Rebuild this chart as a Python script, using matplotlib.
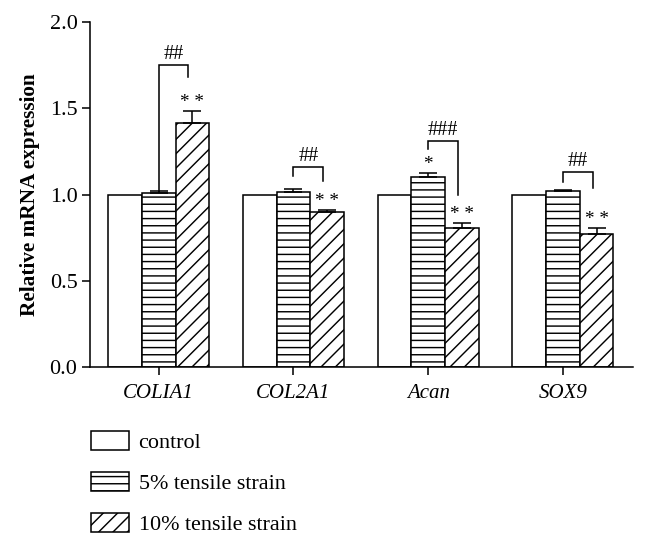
import matplotlib
matplotlib.use("Agg")
import matplotlib.pyplot as plt
import numpy as np
from matplotlib.patches import Patch

# ── Data ──────────────────────────────────────────────────────────────────────
genes = ["COLIA1", "COL2A1", "Acan", "SOX9"]
groups = ["control", "5% tensile strain", "10% tensile strain"]

control = [1.0, 1.0, 1.0, 1.0]
strain5 = [1.007, 1.016, 1.10, 1.022]
strain10 = [1.416, 0.897, 0.804, 0.771]

err_control = [0.0, 0.0, 0.0, 0.0]
err5 = [0.013, 0.014, 0.026, 0.006]
err10 = [0.07, 0.011, 0.033, 0.033]

# significance vs control (above bars) and 5% vs 10% brackets
stars5 = ["", "", "*", ""]
stars10 = ["* *", "* *", "* *", "* *"]
hashes = ["##", "##", "###", "##"]
bracket_top = [1.75, 1.16, 1.31, 1.13]
bracket_left_end = [1.02, 1.11, 1.262, 1.075]
bracket_right_end = [1.68, 1.08, 0.998, 1.04]

# ── Figure ────────────────────────────────────────────────────────────────────
DPI = 86
plt.rcParams["font.family"] = ["Liberation Serif", "DejaVu Serif"]
plt.rcParams["hatch.linewidth"] = 1.2
plt.rcParams["hatch.color"] = "black"

fig = plt.figure(figsize=(647 / DPI, 546 / DPI), dpi=DPI)
ax = fig.add_axes([90 / 647, 1 - 367 / 546, (633 - 90) / 647, (367 - 22) / 546])

x = np.arange(len(genes))
w = 0.25
series = [control, strain5, strain10]
errs = [err_control, err5, err10]
hatch_list = ["", "--", "//"]
lw = 1.3

for i, (vals, e, h) in enumerate(zip(series, errs, hatch_list)):
    xpos = x + (i - 1) * w
    ax.bar(xpos, vals, width=w, facecolor="white", edgecolor="black",
           linewidth=lw, hatch=h, zorder=2)
    if i > 0:
        ax.errorbar(xpos, vals, yerr=[np.zeros(len(vals)), e], fmt="none",
                    ecolor="black", elinewidth=lw, capsize=7.5, capthick=lw,
                    zorder=3)

# stars
star_fs = 16
hash_fs = 17
for j in range(len(genes)):
    if stars5[j]:
        ax.text(x[j], strain5[j] + err5[j] + 0.0, stars5[j], ha="center",
                va="bottom", fontsize=star_fs)
    ax.text(x[j] + w, strain10[j] + err10[j] + 0.0, stars10[j], ha="center",
            va="bottom", fontsize=star_fs)

# brackets 5% vs 10%
for j in range(len(genes)):
    xl = x[j]
    xr = x[j] + 0.88 * w
    ax.plot([xl, xl, xr, xr],
            [bracket_left_end[j], bracket_top[j], bracket_top[j], bracket_right_end[j]],
            color="black", lw=lw, solid_joinstyle="miter", zorder=3)
    ax.text((xl + xr) / 2, bracket_top[j] + 0.005, hashes[j], ha="center",
            va="bottom", fontsize=hash_fs)

# ── Axes styling ──────────────────────────────────────────────────────────────
ax.set_ylim(0, 2.0)
ax.set_xlim(-0.51, 3.52)
ax.set_yticks([0.0, 0.5, 1.0, 1.5, 2.0])
ax.set_yticklabels(["0.0", "0.5", "1.0", "1.5", "2.0"])
ax.set_xticks(x)
ax.set_xticklabels(genes, fontstyle="italic")
ax.spines["top"].set_visible(False)
ax.spines["right"].set_visible(False)
for s in ("left", "bottom"):
    ax.spines[s].set_linewidth(lw)
ax.tick_params(axis="both", direction="out", width=lw, length=6.5, pad=4)
ax.tick_params(axis="y", labelsize=18.5)
ax.tick_params(axis="x", labelsize=17.5, pad=8)
ax.set_ylabel("Relative mRNA expression", fontsize=17.8, fontweight="bold",
              labelpad=8)

# ── Legend ────────────────────────────────────────────────────────────────────
handles = [Patch(facecolor="white", edgecolor="black", linewidth=lw, hatch=h)
           for h in hatch_list]
fig.legend(handles, groups, loc="upper left",
           bbox_to_anchor=(91 / 647, 1 - 431 / 546), frameon=False,
           fontsize=18.5, handlelength=1.7, handleheight=0.95,
           handletextpad=0.45, labelspacing=0.85, borderpad=0, borderaxespad=0)

fig.savefig("out.png", dpi=DPI)
